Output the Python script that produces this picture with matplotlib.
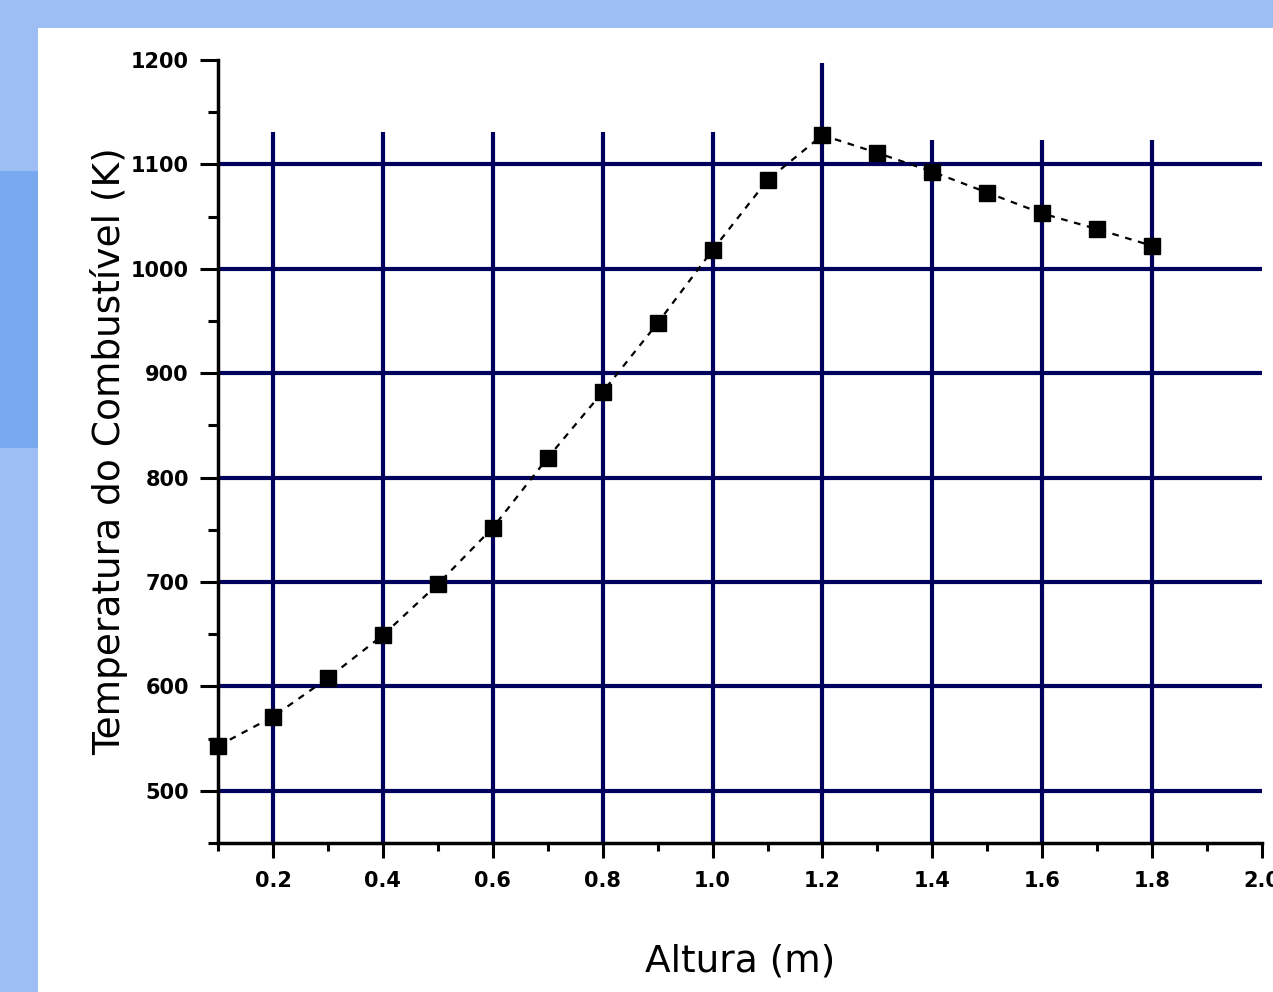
import numpy as np
import matplotlib.pyplot as plt
from matplotlib.patches import Rectangle
from matplotlib.ticker import MultipleLocator

# Fuel temperature along the bed height
altura = [0.1, 0.2, 0.3, 0.4, 0.5, 0.6, 0.7, 0.8, 0.9, 1.0,
          1.1, 1.2, 1.3, 1.4, 1.5, 1.6, 1.7, 1.8]
temperatura = [543, 571, 608, 649, 698, 752, 819, 882, 948, 1018,
               1085, 1128, 1111, 1093, 1073, 1053, 1038, 1022]

# Reference lines
x_linhas = [0.2, 0.4, 0.6, 0.8, 1.0, 1.2, 1.4, 1.6, 1.8]
x_linhas_topo = [1131, 1131, 1131, 1131, 1131, 1197, 1123, 1123, 1123]
y_linhas = [500, 600, 700, 800, 900, 1000, 1100]

fig = plt.figure(figsize=(12.73, 9.92), dpi=100)
fig.patch.set_facecolor("#9cbef4")

# white panel and darker blue strip on the left
fig.add_artist(Rectangle((0, 0.548), 0.03, 0.28, transform=fig.transFigure,
                         facecolor="#78a8ee", edgecolor="none", zorder=0))
fig.add_artist(Rectangle((0.0299, 0), 0.98, 0.972, transform=fig.transFigure,
                         facecolor="white", edgecolor="none", zorder=0))

ax = fig.add_axes([0.1713, 0.1502, 0.8201, 0.7893])
ax.set_facecolor("none")

grade = "#00005c"
ax.hlines(y_linhas, 0.1, 2.0, colors=grade, linewidth=3, zorder=1)
ax.vlines(x_linhas, 450, x_linhas_topo, colors=grade, linewidth=3, zorder=1)

ax.plot(altura, temperatura, color="black", linestyle=(0, (3, 3)),
        linewidth=1.6, marker="s", markersize=12, markerfacecolor="black",
        markeredgecolor="black", zorder=3, clip_on=False)

ax.set_xlim(0.1, 2.0)
ax.set_ylim(450, 1200)

ax.xaxis.set_minor_locator(MultipleLocator(0.1))
ax.yaxis.set_minor_locator(MultipleLocator(50))

ax.set_xticks(np.arange(0.2, 2.01, 0.2))
ax.set_xticklabels([f"{v:.1f}" for v in np.arange(0.2, 2.01, 0.2)])
ax.set_yticks(range(500, 1201, 100))
ax.set_yticklabels([str(v) for v in range(500, 1201, 100)])

for lbl in ax.get_xticklabels() + ax.get_yticklabels():
    lbl.set_fontweight("bold")
    lbl.set_fontsize(15)

ax.tick_params(axis="y", which="major", length=13, width=2.2, pad=8,
               direction="out")
ax.tick_params(axis="y", which="minor", length=7, width=2.2, direction="out")
ax.tick_params(axis="x", which="major", length=11, width=2.2, pad=9,
               direction="out")
ax.tick_params(axis="x", which="minor", length=6, width=2.2, direction="out")

for side in ["top", "right"]:
    ax.spines[side].set_visible(False)
for side in ["left", "bottom"]:
    ax.spines[side].set_linewidth(2.5)
    ax.spines[side].set_zorder(4)

ax.set_xlabel("Altura (m)", fontsize=27, labelpad=38)
ax.set_ylabel("Temperatura do Combustível (K)", fontsize=27, labelpad=2)

fig.savefig("out.png", dpi=100)
